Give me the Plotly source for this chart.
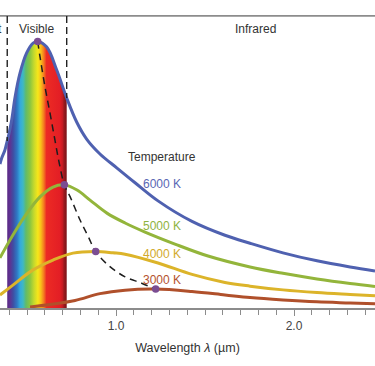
import plotly.graph_objects as go

# Wavelength (µm) and relative spectral intensity
lam_6000 = [0.348, 0.358, 0.376, 0.389, 0.395, 0.414, 0.433, 0.461, 0.498, 0.534, 0.560,
            0.611, 0.667, 0.723, 0.779, 0.835, 0.910, 1.004, 1.107, 1.236, 1.427,
            1.612, 1.753, 1.938, 2.129, 2.315, 2.455]
int_6000 = [54.0, 56.3, 59.3, 62.7, 64.2, 70.5, 79.2, 88.2, 95.7, 99.4, 100.0,
            97.9, 89.3, 78.8, 69.8, 63.4, 57.8, 52.6, 47.0, 40.2, 32.5,
            27.3, 24.3, 20.7, 17.7, 15.4, 13.9]

lam_5000 = [0.348, 0.421, 0.500, 0.573, 0.646, 0.710, 0.781, 0.854, 0.949, 1.051, 1.163,
            1.331, 1.517, 1.753, 1.938, 2.129, 2.315, 2.455]
int_5000 = [18.8, 27.4, 35.6, 41.7, 45.4, 46.2, 44.3, 40.5, 35.6, 31.9, 28.5,
            24.0, 19.5, 15.4, 13.0, 10.9, 9.2, 8.1]

lam_4000 = [0.348, 0.421, 0.534, 0.646, 0.758, 0.886, 0.983, 1.051, 1.236, 1.427, 1.612,
            1.753, 1.938, 2.129, 2.315, 2.455]
int_4000 = [4.9, 8.6, 14.3, 18.0, 20.6, 21.2, 20.7, 20.2, 16.9, 12.6, 9.6,
            8.2, 6.8, 5.8, 5.1, 4.6]

lam_3000 = [0.517, 0.629, 0.770, 0.910, 1.051, 1.223, 1.427, 1.612, 1.753, 1.938, 2.129,
            2.315, 2.455]
int_3000 = [0.4, 1.3, 2.8, 5.4, 6.7, 7.1, 6.2, 4.9, 3.9, 3.0, 2.3, 1.9, 1.6]

# Locus of the peaks (dashed curve) and the peak markers
lam_peak_locus = [0.560, 0.573, 0.601, 0.629, 0.657, 0.681, 0.710, 0.742, 0.798, 0.844,
                  0.886, 0.966, 1.051, 1.144, 1.223]
int_peak_locus = [100.0, 94.3, 83.0, 73.2, 63.0, 54.4, 46.2, 41.8, 33.0, 26.8,
                  21.1, 15.5, 11.7, 9.3, 7.0]
lam_peaks = [0.560, 0.710, 0.886, 1.223]
int_peaks = [100.0, 46.2, 21.2, 7.1]

temperatures = ["6000 K", "5000 K", "4000 K", "3000 K"]
visible_band = [0.389, 0.723]
x_ticks = [1.0, 2.0]

colors = {"6000 K": "#4f61b0", "5000 K": "#93b53b", "4000 K": "#dcb42a", "3000 K": "#b0502b"}
label_colors = {"6000 K": "#5a67b4", "5000 K": "#8fb33f", "4000 K": "#d2aa2c", "3000 K": "#b4522e"}

X0, X1 = 0.3483, 2.455
Y0, Y1 = 0.0, 115.57
FONT = "Liberation Sans, Arial, sans-serif"

fig = go.Figure()

# Visible spectrum under the 6000 K curve
vis_x = [l for l in lam_6000 if visible_band[0] <= l <= visible_band[1]]
vis_y = [v for l, v in zip(lam_6000, int_6000) if visible_band[0] <= l <= visible_band[1]]
spectrum = [
    [0.0, "#5a2a85"], [0.045, "#5f3292"], [0.10, "#3f4ea3"], [0.165, "#2f78c4"],
    [0.215, "#34a9dc"], [0.265, "#3fb8c4"], [0.315, "#62bb68"], [0.385, "#8cc63f"],
    [0.45, "#c5d92d"], [0.515, "#f6e61a"], [0.565, "#f9c11a"], [0.615, "#f47c20"],
    [0.66, "#ec2b24"], [0.885, "#e31e25"], [0.93, "#c41b22"], [0.955, "#9a1a1e"],
    [1.0, "#7a1216"],
]
fig.add_trace(go.Scatter(
    x=vis_x, y=vis_y, mode="lines", line=dict(width=0, shape="spline"),
    fill="tozeroy",
    fillgradient=dict(type="horizontal", colorscale=spectrum,
                      start=visible_band[0], stop=visible_band[1]),
    hoverinfo="skip", showlegend=False))

series = [
    ("3000 K", lam_3000, int_3000),
    ("4000 K", lam_4000, int_4000),
    ("5000 K", lam_5000, int_5000),
    ("6000 K", lam_6000, int_6000),
]
for name, xs, ys in series:
    fig.add_trace(go.Scatter(x=xs, y=ys, mode="lines", name=name,
                             line=dict(color=colors[name], width=3, shape="spline", smoothing=1),
                             showlegend=False))

fig.add_trace(go.Scatter(x=lam_peak_locus, y=int_peak_locus, mode="lines",
                         line=dict(color="#1e1e1e", width=1.5, dash="7px,5px", shape="spline"),
                         showlegend=False))
fig.add_trace(go.Scatter(x=lam_peaks, y=int_peaks, mode="markers",
                         marker=dict(color="#7b4d92", size=7.5), showlegend=False))

# Frame line at the top and the visible-band boundaries
top_y = 109.6
fig.add_shape(type="line", xref="paper", x0=0, x1=1, y0=top_y, y1=top_y,
              line=dict(color="#8c8c8c", width=1.6))
fig.add_shape(type="line", x0=visible_band[0], x1=visible_band[0], y0=top_y, y1=int_6000[3],
              line=dict(color="#222", width=1.4, dash="7px,4px"))
fig.add_shape(type="line", x0=visible_band[1], x1=visible_band[1], y0=top_y, y1=int_6000[13],
              line=dict(color="#222", width=1.4, dash="7px,4px"))

ann = [
    dict(x=0.370, y=104.7, text="Ultraviolet", xanchor="right", font=dict(size=12, color="#333")),
    dict(x=0.556, y=104.7, text="Visible", font=dict(size=12, color="#333")),
    dict(x=1.781, y=104.7, text="Infrared", font=dict(size=12, color="#333")),
    dict(x=1.258, y=56.7, text="Temperature", font=dict(size=12, color="#333")),
]
label_y = [46.4, 30.9, 20.2, 10.5]
for t, yy in zip(temperatures, label_y):
    ann.append(dict(x=1.256, y=yy, text=t, font=dict(size=12, color=label_colors[t])))
for a in ann:
    a.update(xref="x", yref="y", showarrow=False)
    a["font"]["family"] = FONT
fig.update_layout(annotations=ann)

fig.update_layout(
    width=375, height=366,
    margin=dict(l=0, r=0, t=0, b=58),
    paper_bgcolor="white", plot_bgcolor="white",
    font=dict(family=FONT, size=12, color="#333"),
    hovermode=False,
    xaxis=dict(range=[X0, X1], showgrid=False, zeroline=False,
               showline=True, linecolor="#8c8c8c", linewidth=1.5,
               tickvals=x_ticks, tickformat=".1f", ticks="outside", ticklen=6,
               tickcolor="#8c8c8c", tickwidth=1.2,
               tickfont=dict(size=12, color="#444"),
               minor=dict(dtick=0.1, tick0=0.0, ticks="outside", ticklen=5,
                          tickcolor="#8c8c8c", tickwidth=1.2, showgrid=False),
               title=dict(text="Wavelength <i>λ</i> (µm)", font=dict(size=12.5, color="#333"),
                          standoff=11)),
    yaxis=dict(range=[Y0, Y1], visible=False),
)

fig.write_html("out.html", config={"displayModeBar": False},
               post_script="document.body.style.margin='0';document.body.style.overflow='hidden';")
